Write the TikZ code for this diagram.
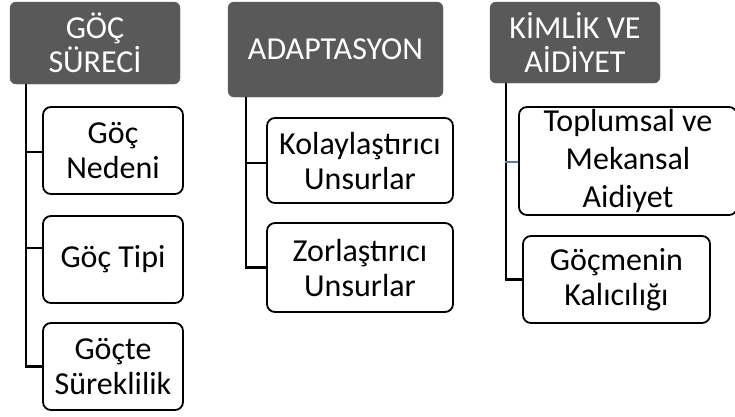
\documentclass[tikz,border=0pt]{standalone}
\usepackage{fontspec}
\setmainfont{Carlito}
\definecolor{hdrgrey}{HTML}{595959}
\definecolor{linkblue}{HTML}{4A7EBB}
\tikzset{
  hdr/.style={draw=hdrgrey, fill=hdrgrey, rounded corners=6pt, text=white, align=center, inner sep=0pt,
    font=\fontsize{32}{34}\selectfont},
  sub/.style={draw=black, line width=1.8pt, fill=white, rounded corners=8pt, align=center, inner sep=0pt,
    font=\fontsize{32}{35}\selectfont},
  conn/.style={draw=black, line width=2.6pt},
  connb/.style={draw=linkblue, line width=1.6pt}
}
\begin{document}
\begin{tikzpicture}[x=1pt,y=-1pt]
\useasboundingbox (0,0) rectangle (735,416);
% headers
\node[hdr, minimum width=170pt, minimum height=82pt] (h1) at (95,43) {GÖÇ\\SÜRECİ};
\node[hdr, minimum width=215pt, minimum height=95pt] (h2) at (335.5,49.5) {ADAPTASYON};
\node[hdr, minimum width=170pt, minimum height=81pt] (h3) at (575,42.5) {KİMLİK VE\\AİDİYET};
% column 1
\node[sub, minimum width=140pt, minimum height=87pt] (c1a) at (113,150.5) {Göç\\Nedeni};
\node[sub, minimum width=140pt, minimum height=87pt] (c1b) at (113,259.5) {Göç Tipi};
\node[sub, minimum width=140pt, minimum height=87pt] (c1c) at (113,366.5) {Göçte\\Süreklilik};
% column 2
\node[sub, minimum width=186pt, minimum height=85pt] (c2a) at (360,160.5) {Kolaylaştırıcı\\Unsurlar};
\node[sub, minimum width=186pt, minimum height=89pt] (c2b) at (360,267.5) {Zorlaştırıcı\\Unsurlar};
% column 3
\node[sub, minimum width=218pt, minimum height=108pt, font=\fontsize{32}{38}\selectfont] (c3a) at (628,161) {Toplumsal ve\\Mekansal\\Aidiyet};
\node[sub, minimum width=187pt, minimum height=87pt] (c3b) at (616.5,279.5) {Göçmenin\\Kalıcılığı};
% connectors
\draw[conn] ([xshift=16pt]h1.south west) |- ([yshift=-1.5pt]c1a.west);
\draw[conn] ([xshift=16pt]h1.south west) |- ([yshift=11.5pt]c1b.west);
\draw[conn] ([xshift=16pt]h1.south west) |- (c1c.west);
\draw[conn] ([xshift=18pt]h2.south west) |- ([yshift=-2.5pt]c2a.west);
\draw[conn] ([xshift=18pt]h2.south west) |- (c2b.west);
\draw[conn] ([xshift=16pt]h3.south west) |- (c3b.west);
\draw[connb] ([xshift=-13pt,yshift=-1pt]c3a.west) -- ([yshift=-1pt]c3a.west);
\end{tikzpicture}
\end{document}
